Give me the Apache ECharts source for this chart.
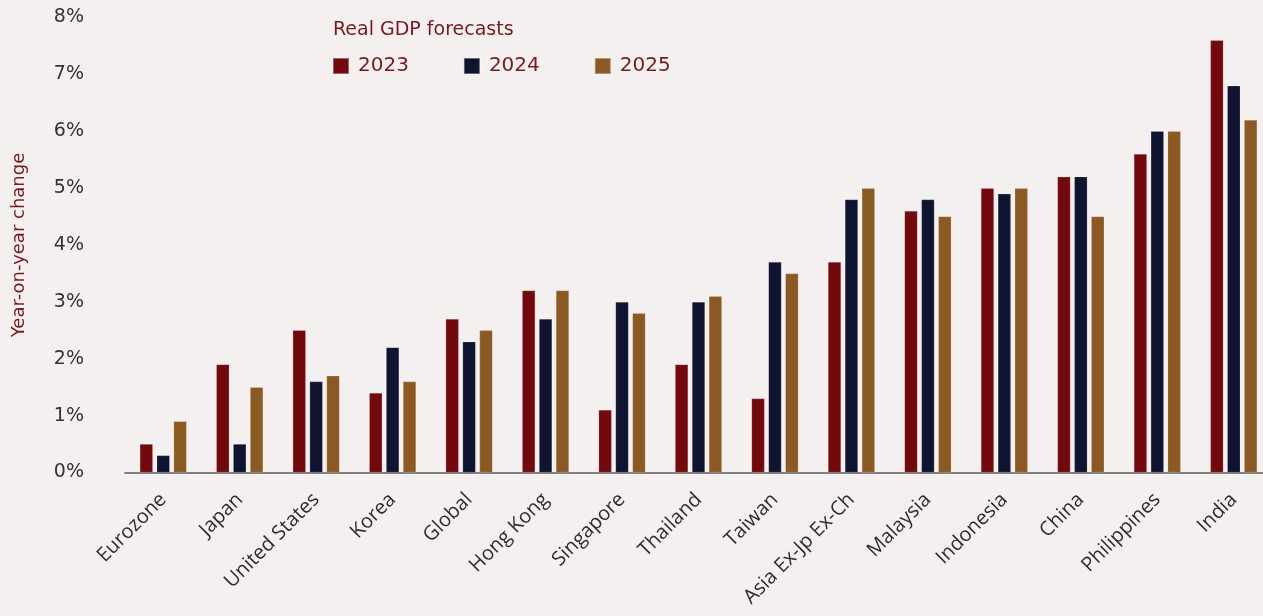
<!DOCTYPE html>
<html>
<head>
<meta charset="utf-8">
<script src="https://cdn.jsdelivr.net/npm/echarts@6/dist/echarts.min.js"></script>
<style>
  html, body { margin: 0; padding: 0; background: #f5f0f0; }
  #chart { width: 1263px; height: 616px; }
</style>
</head>
<body>
<div id="chart"></div>
<script>
// Real GDP growth forecasts by economy, year-on-year %
const categories = ['Eurozone', 'Japan', 'United States', 'Korea', 'Global', 'Hong Kong',
  'Singapore', 'Thailand', 'Taiwan', 'Asia Ex-Jp Ex-Ch', 'Malaysia', 'Indonesia',
  'China', 'Philippines', 'India'];
const gdp2023 = [0.5, 1.9, 2.5, 1.4, 2.7, 3.2, 1.1, 1.9, 1.3, 3.7, 4.6, 5.0, 5.2, 5.6, 7.6];
const gdp2024 = [0.3, 0.5, 1.6, 2.2, 2.3, 2.7, 3.0, 3.0, 3.7, 4.8, 4.8, 4.9, 5.2, 6.0, 6.8];
const gdp2025 = [0.9, 1.5, 1.7, 1.6, 2.5, 3.2, 2.8, 3.1, 3.5, 5.0, 4.5, 5.0, 4.5, 6.0, 6.2];
const seriesNames = ['2023', '2024', '2025'];
const legendTitle = 'Real GDP forecasts';
const yAxisTitle = 'Year-on-year change';

const colors = ['#720a0d', '#0f1430', '#8b5a23'];
const accent = '#7a1a1e';
const font = '"DejaVu Sans", sans-serif';

const chart = echarts.init(document.getElementById('chart'));

const barStyle = (c) => ({
  type: 'bar',
  barWidth: 13,
  barGap: '30%',
  itemStyle: { color: c, borderColor: 'rgba(255,255,255,0.35)', borderWidth: 0.5 }
});

chart.setOption({
  backgroundColor: '#f5f0f0',
  animation: false,
  color: colors,
  title: {
    text: legendTitle,
    left: 333,
    top: 21,
    padding: 0,
    textStyle: { color: accent, fontFamily: font, fontSize: 19, fontWeight: 'normal' }
  },
  legend: {
    left: 332,
    top: 56,
    padding: 0,
    itemWidth: 16,
    itemHeight: 16,
    itemGap: 54,
    icon: 'rect',
    data: seriesNames,
    textStyle: { color: accent, fontFamily: font, fontSize: 20, padding: [0, 0, 0, 4] }
  },
  grid: {
    left: 125, right: -9, top: 17.5, bottom: 143.5,
    containLabel: false,
    outerBoundsMode: 'none'
  },
  xAxis: {
    type: 'category',
    data: categories,
    axisLine: { lineStyle: { color: '#808080', width: 2 } },
    axisTick: { show: false },
    axisLabel: {
      rotate: 45,
      interval: 0,
      margin: 24,
      color: '#2e2e2e',
      fontFamily: '"Open Sans", sans-serif',
      fontSize: 20
    }
  },
  yAxis: {
    type: 'value',
    min: 0,
    max: 8,
    interval: 1,
    name: yAxisTitle,
    nameLocation: 'middle',
    nameRotate: 90,
    nameGap: 97,
    nameTextStyle: { color: accent, fontFamily: font, fontSize: 18 },
    axisLine: { show: false },
    axisTick: { show: false },
    splitLine: { show: false },
    axisLabel: {
      formatter: '{value}%',
      margin: 41,
      color: '#333333',
      fontFamily: font,
      fontSize: 19
    }
  },
  series: [
    Object.assign({ name: seriesNames[0], data: gdp2023 }, barStyle(colors[0])),
    Object.assign({ name: seriesNames[1], data: gdp2024 }, barStyle(colors[1])),
    Object.assign({ name: seriesNames[2], data: gdp2025 }, barStyle(colors[2]))
  ]
});
</script>
</body>
</html>
